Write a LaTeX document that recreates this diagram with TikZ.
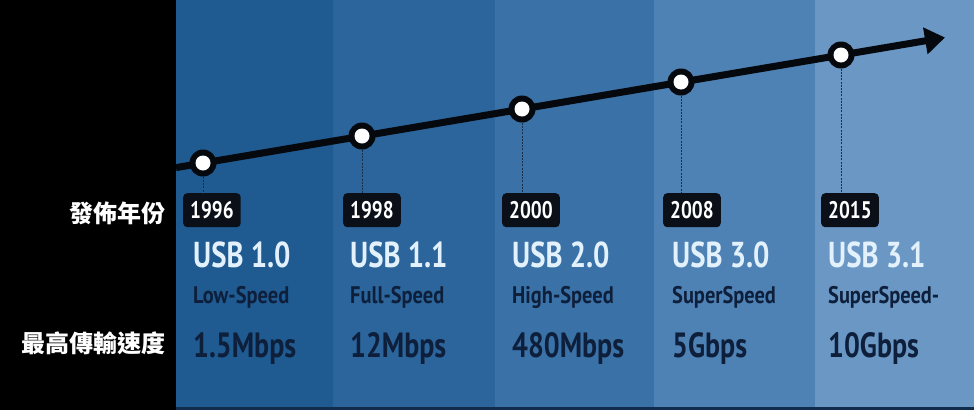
\documentclass[tikz,border=0pt]{standalone}
\usepackage{fontspec}
\setmainfont{PT Sans}[FakeStretch=0.85]
\newfontfamily\narrowfont{PT Sans}[FakeStretch=0.8]
\newfontfamily\cjk{Noto Sans CJK TC}
\usetikzlibrary{arrows.meta}
\definecolor{colA}{HTML}{1F5A90}
\definecolor{colB}{HTML}{2B659B}
\definecolor{colC}{HTML}{3A71A6}
\definecolor{colD}{HTML}{4E81B4}
\definecolor{colE}{HTML}{6A97C4}
\definecolor{usbwhite}{HTML}{E2F1FC}
\definecolor{navy}{HTML}{0E1F3B}
\definecolor{boxblack}{HTML}{0A0F18}
\definecolor{lineblack}{HTML}{05080C}
\definecolor{dotline}{HTML}{1A2E48}
\begin{document}
\begin{tikzpicture}[x=1pt,y=-1pt,
  ver/.style={anchor=base west, text=usbwhite, inner sep=0pt, font=\narrowfont\fontsize{36}{38}\selectfont\bfseries},
  mode/.style={anchor=base west, text=navy, inner sep=0pt, font=\fontsize{24}{26}\selectfont\bfseries},
  rate/.style={anchor=base west, text=navy, inner sep=0pt, font=\narrowfont\fontsize{35}{38}\selectfont\bfseries},
  yearbox/.style={anchor=north west, fill=boxblack, rounded corners=4pt, text=white, inner xsep=7pt, inner ysep=0pt, minimum height=34pt, font=\narrowfont\fontsize{24}{25}\selectfont\bfseries},
  dot/.style={circle, fill=lineblack, minimum size=27pt, inner sep=0pt, path picture={\fill[white] (path picture bounding box.center) circle (7.5pt);}},
  drop/.style={dotline, line width=0.9pt, dash pattern=on 2pt off 1.2pt},
  cjklabel/.style={anchor=east, text=white, inner sep=0pt, font=\cjk\bfseries\fontsize{24}{25}\selectfont}
]
\useasboundingbox (0,0) rectangle (974,410);
% background columns
\fill[black] (0,0) rectangle (176,410);
\fill[colA] (176,0) rectangle (333,410);
\fill[colB] (333,0) rectangle (495,410);
\fill[colC] (495,0) rectangle (654,410);
\fill[colD] (654,0) rectangle (815,410);
\fill[colE] (815,0) rectangle (974,410);
\fill[navy!80!colA] (176,407) rectangle (974,410);

% year boxes
\node[yearbox] (y1) at (183,193) {1996};
\node[yearbox] (y2) at (343,193) {1998};
\node[yearbox] (y3) at (502,193) {2000};
\node[yearbox] (y4) at (663,193) {2008};
\node[yearbox] (y5) at (821,193) {2015};

% timeline
\coordinate (start) at (176,167.6);
\coordinate (tip) at (945,37.5);
\draw[lineblack, line width=7pt, -{Triangle[length=20pt,width=26pt]}] (start) -- (tip);
\node[dot] (c1) at (203,163) {};
\node[dot] (c2) at (362,136) {};
\node[dot] (c3) at (522,109) {};
\node[dot] (c4) at (681,82) {};
\node[dot] (c5) at (841,55) {};
\draw[drop] (c1.south) -- (c1 |- y1.north);
\draw[drop] (c2.south) -- (c2 |- y2.north);
\draw[drop] (c3.south) -- (c3 |- y3.north);
\draw[drop] (c4.south) -- (c4 |- y4.north);
\draw[drop] (c5.south) -- (c5 |- y5.north);

% left labels
\node[cjklabel] (lab1) at (166,213) {發佈年份};
\node[cjklabel] (lab2) at (166,343) {最高傳輸速度};

% columns text
\node[ver] (v1) at (193,267) {USB 1.0};
\node[ver] (v2) at (350,267) {USB 1.1};
\node[ver] (v3) at (512,267) {USB 2.0};
\node[ver] (v4) at (672,267) {USB 3.0};
\node[ver] (v5) at (828,267) {USB 3.1};

\node[mode] (m1) at (193,303) {Low-Speed};
\node[mode] (m2) at (350,303) {Full-Speed};
\node[mode] (m3) at (512,303) {High-Speed};
\node[mode] (m4) at (672,303) {SuperSpeed};
\node[mode] (m5) at (828,303) {SuperSpeed-};

\node[rate] (r1) at (193,357) {1.5Mbps};
\node[rate] (r2) at (350,357) {12Mbps};
\node[rate] (r3) at (512,357) {480Mbps};
\node[rate] (r4) at (672,357) {5Gbps};
\node[rate] (r5) at (828,357) {10Gbps};
\end{tikzpicture}
\end{document}
